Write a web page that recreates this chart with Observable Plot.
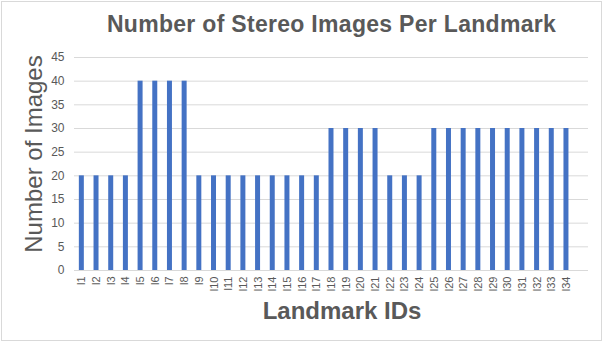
<!DOCTYPE html>
<html>
<head>
<meta charset="utf-8">
<script src="https://cdn.jsdelivr.net/npm/d3@7"></script>
<script src="https://cdn.jsdelivr.net/npm/@observablehq/plot@0.6"></script>
<style>
  html, body { margin: 0; padding: 0; background: #fff; }
  #wrap { position: relative; width: 603px; height: 343px; overflow: hidden; font-family: "Liberation Sans", Arial, Helvetica, sans-serif; }
  #frame { position: absolute; left: 1px; top: 1px; width: 599px; height: 338px; border: 1px solid #d9d9d9; }
  .lbl { position: absolute; color: #595959; white-space: nowrap; line-height: 1; }
  #title { left: 331.5px; top: 13px; transform: translateX(-50%); font-size: 23px; font-weight: bold; letter-spacing: 0.3px; }
  #xlab { left: 342px; top: 299px; transform: translateX(-50%); font-size: 24px; font-weight: bold; }
  #ylab { left: 34px; top: 154px; transform: translate(-50%, -50%) rotate(-90deg); font-size: 24px; }
  #chart { position: absolute; left: 0; top: 0; }
</style>
</head>
<body>
<div id="wrap">
  <div id="frame"></div>
  <div id="chart"></div>
  <div class="lbl" id="title">Number of Stereo Images Per Landmark</div>
  <div class="lbl" id="ylab">Number of Images</div>
  <div class="lbl" id="xlab">Landmark IDs</div>
</div>
<script>
const landmarkIds = ["l1","l2","l3","l4","l5","l6","l7","l8","l9","l10","l11","l12","l13","l14","l15","l16","l17","l18","l19","l20","l21","l22","l23","l24","l25","l26","l27","l28","l29","l30","l31","l32","l33","l34"];
const imageCounts = [20,20,20,20,40,40,40,40,20,20,20,20,20,20,20,20,20,30,30,30,30,20,20,20,30,30,30,30,30,30,30,30,30,30];
const yTicks = [0,5,10,15,20,25,30,35,40,45];

const data = landmarkIds.map((id, i) => ({id, n: imageCounts[i]}));

const chart = Plot.plot({
  width: 603,
  height: 343,
  marginTop: 57,
  marginBottom: 73,
  marginLeft: 74,
  marginRight: 15,
  style: {fontFamily: '"Liberation Sans", Arial, sans-serif', color: "#595959", background: "transparent", overflow: "visible"},
  x: {domain: landmarkIds, range: [74, 573.3], paddingInner: 0.66, paddingOuter: 0.33, round: false, label: null},
  y: {domain: [0, 45], label: null},
  marks: [
    Plot.ruleY(yTicks, {stroke: "#d9d9d9", strokeWidth: 1}),
    Plot.barY(data, {x: "id", y: "n", fill: "#4472c4"}),
    Plot.axisY({ticks: yTicks, tickSize: 0, tickPadding: 10, fontSize: 12, label: null}),
    Plot.axisX({tickSize: 0, tickPadding: 6, tickRotate: -90, fontSize: 11, label: null})
  ]
});
document.getElementById("chart").appendChild(chart);
</script>
</body>
</html>
